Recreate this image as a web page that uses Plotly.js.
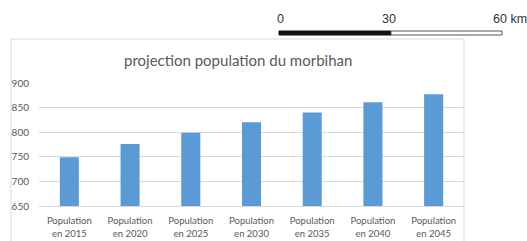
<!DOCTYPE html>
<html>
<head>
<meta charset="utf-8">
<script src="https://cdn.plot.ly/plotly-3.0.1.min.js"></script>
<style>
html,body{margin:0;padding:0;background:#fff;}
#chart{width:527px;height:241px;}
</style>
</head>
<body>
<div id="chart"></div>
<script>
const categories = ["Population<br>en 2015","Population<br>en 2020","Population<br>en 2025","Population<br>en 2030","Population<br>en 2035","Population<br>en 2040","Population<br>en 2045"];
const population = [749, 776, 799, 820, 840, 861, 877];
const yTicks = [650, 700, 750, 800, 850, 900];
const scaleLabels = ["0", "30", "60 km"];
const chartTitle = "projection population du morbihan";

// plot area in pixels: x 39..464, y 83..206
const L = 39, R = 464, T = 83, B = 206;
const W = R - L, H = B - T;
const px = v => (v - L) / W;
const py = v => (B - v) / H;

const grey = "#595959";
const font = "Lato, 'Open Sans', sans-serif";
const mapFont = "'Liberation Sans', Arial, sans-serif";

const data = [{
  type: "bar",
  x: categories,
  y: population,
  marker: {color: "#5b9bd5"},
  hoverinfo: "x+y"
}];

const layout = {
  width: 527, height: 241,
  margin: {l: L, r: 527 - R, t: T, b: 241 - B, pad: 0},
  paper_bgcolor: "#ffffff",
  plot_bgcolor: "#ffffff",
  showlegend: false,
  bargap: 0.686,
  font: {family: font, color: grey, size: 10},
  xaxis: {
    type: "category",
    showline: true, linecolor: "#d9d9d9", linewidth: 1,
    showgrid: false, ticks: "",
    tickfont: {family: font, size: 9.5, color: grey},
    ticklabelstandoff: 6,
    fixedrange: true
  },
  yaxis: {
    range: [650, 900],
    tickvals: yTicks,
    ticktext: yTicks.map(String),
    showgrid: true, gridcolor: "#d9d9d9", gridwidth: 1,
    zeroline: false, showline: false, ticks: "",
    tickfont: {family: font, size: 10, color: grey},
    ticklabelstandoff: 9,
    fixedrange: true
  },
  shapes: [
    // chart border
    {type: "rect", xref: "paper", yref: "paper", layer: "below",
     x0: px(11), x1: px(464), y0: py(260), y1: py(39),
     line: {color: "#d9d9d9", width: 1}, fillcolor: "rgba(0,0,0,0)"},
    // scale bar: black half
    {type: "rect", xref: "paper", yref: "paper",
     x0: px(279), x1: px(391), y0: py(35), y1: py(31),
     line: {color: "#111111", width: 1}, fillcolor: "#111111"},
    // scale bar: white half
    {type: "rect", xref: "paper", yref: "paper",
     x0: px(391), x1: px(502), y0: py(35), y1: py(31),
     line: {color: "#555555", width: 1}, fillcolor: "#ffffff"}
  ],
  annotations: [
    {text: chartTitle, xref: "paper", yref: "paper", x: px(238), y: py(60),
     xanchor: "center", yanchor: "middle", showarrow: false,
     font: {family: font, size: 15, color: grey}},
    {text: scaleLabels[0], xref: "paper", yref: "paper", x: px(280), y: py(19),
     xanchor: "center", yanchor: "middle", showarrow: false,
     font: {family: mapFont, size: 12.5, color: "#333333"}},
    {text: scaleLabels[1], xref: "paper", yref: "paper", x: px(389), y: py(19),
     xanchor: "center", yanchor: "middle", showarrow: false,
     font: {family: mapFont, size: 12.5, color: "#333333"}},
    {text: scaleLabels[2], xref: "paper", yref: "paper", x: px(491), y: py(19),
     xanchor: "left", yanchor: "middle", showarrow: false,
     font: {family: mapFont, size: 12.5, color: "#333333"}}
  ]
};

Plotly.newPlot("chart", data, layout, {staticPlot: true, displayModeBar: false});
</script>
</body>
</html>
